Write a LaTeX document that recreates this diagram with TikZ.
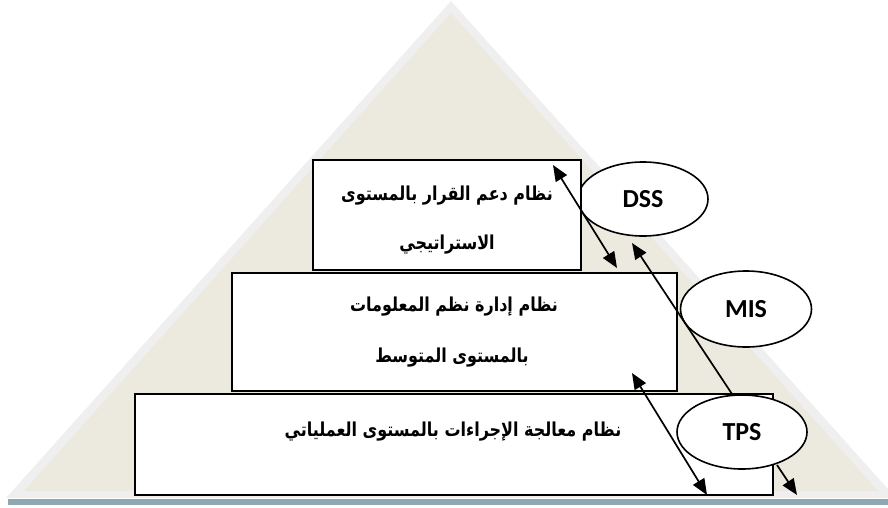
\documentclass[tikz,border=0pt]{standalone}
\usepackage{fontspec}
\usetikzlibrary{arrows.meta,shapes.geometric}
\TeXXeTstate=1
\newfontfamily\arabicfont[Script=Arabic]{DejaVu Sans}
\newfontfamily\labelfont{Carlito}
\definecolor{pyrborder}{HTML}{EFEFEF}
\definecolor{pyrfill}{HTML}{ECEADF}
\definecolor{basebar}{HTML}{8FA7B1}
\begin{document}
\begin{tikzpicture}[x=1pt,y=-1pt,
  levelbox/.style={draw,line width=2pt,fill=white,inner sep=0pt},
  arabictext/.style={font=\arabicfont\bfseries\fontsize{16}{19}\selectfont,inner sep=0pt,yscale=1.2,transform shape},
  sysoval/.style={ellipse,draw,line width=1.6pt,fill=white,inner sep=0pt,
    minimum width=130pt,minimum height=74pt,font=\labelfont\bfseries\fontsize{26}{28}\selectfont},
  link/.style={line width=1.7pt},
  tip/.tip={Triangle[length=16pt,width=13pt]}]
\useasboundingbox (0,0) rectangle (888,507);
\clip (0,0) rectangle (888,507);

% pyramid background: light rim with a beige core
\fill[pyrborder] (6,498) -- (451,1) -- (896,498) -- cycle;
\fill[pyrfill] (24,491) -- (451,13) -- (878,491) -- cycle;
\fill[basebar] (8,499) rectangle (888,505);

% strategic level
\node[sysoval] (dss) at (643,199) {DSS};
\node[levelbox,minimum width=268pt,minimum height=110pt] (dssbox) at (447,215) {};
\node[arabictext] (dssa) at (447,196) {\beginR نظام دعم القرار بالمستوى\endR};
\node[arabictext] (dssb) at (447,245) {\beginR الاستراتيجي\endR};

% middle level
\node[levelbox,minimum width=445pt,minimum height=118pt] (misbox) at (454.5,332) {};
\node[arabictext] (misa) at (454,307) {\beginR نظام إدارة نظم المعلومات\endR};
\node[arabictext] (misb) at (452,358) {\beginR بالمستوى المتوسط\endR};
\node[sysoval,minimum height=76pt,minimum width=131pt] (mis) at (746,309) {MIS};

% operational level
\node[levelbox,minimum width=638pt,minimum height=101pt] (tpsbox) at (454,444.5) {};
\node[arabictext] (tpsa) at (453,432) {\beginR نظام معالجة الإجراءات بالمستوى العملياتي\endR};
\node[sysoval] (tps) at (742,432) {TPS};

% connector end points
\coordinate (a1) at (553,165);
\coordinate (a2) at (617,268);
\coordinate (b1) at (732,394);
\coordinate (b2) at (632,243);
\coordinate (c1) at (632,373);
\coordinate (c2) at (707,495);
\coordinate (d1) at (777,465);
\coordinate (d2) at (797,495);

\draw[link,tip-tip] (a1) -- (a2);
\draw[link,-tip] (b1) -- (b2);
\draw[link,tip-tip] (c1) -- (c2);
\draw[link,-tip] (d1) -- (d2);
\end{tikzpicture}
\end{document}
